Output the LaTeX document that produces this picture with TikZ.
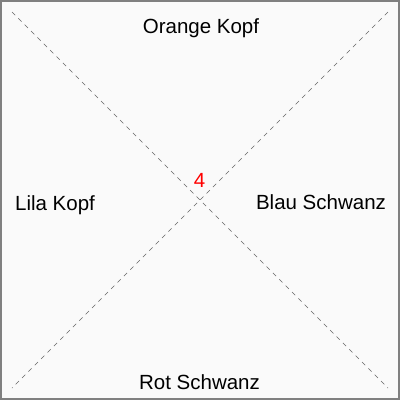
\documentclass[tikz,border=0pt]{standalone}
\usepackage{fontspec}
\setmainfont{Liberation Sans}
\begin{document}
\begin{tikzpicture}[x=1pt,y=-1pt,
    lbl/.style={font=\fontsize{20.5}{24}\selectfont,inner sep=0pt,anchor=base},
    diag/.style={draw=black!60,dash pattern=on 4.5pt off 4.5pt,line width=0.7pt}]
  \useasboundingbox (0,0) rectangle (400,400);
  \fill[black!2] (0,0) rectangle (400,400);
  \draw[black!50,line width=2pt] (1,1) rectangle (399,399);
  % corners of the diagonals
  \coordinate (tl) at (12,12);
  \coordinate (tr) at (388,12);
  \coordinate (bl) at (12,388);
  \coordinate (br) at (388,388);
  \draw[diag] (tl) -- (br);
  \draw[diag] (tr) -- (bl);
  % labels
  \node[lbl] (orange) at (201,33) {Orange Kopf};
  \node[lbl] (rot) at (199.5,389) {Rot Schwanz};
  \node[lbl] (lila) at (55,210) {Lila Kopf};
  \node[lbl] (blau) at (321,209) {Blau Schwanz};
  \node[lbl,red] (count) at (199.5,187) {4};
\end{tikzpicture}
\end{document}
